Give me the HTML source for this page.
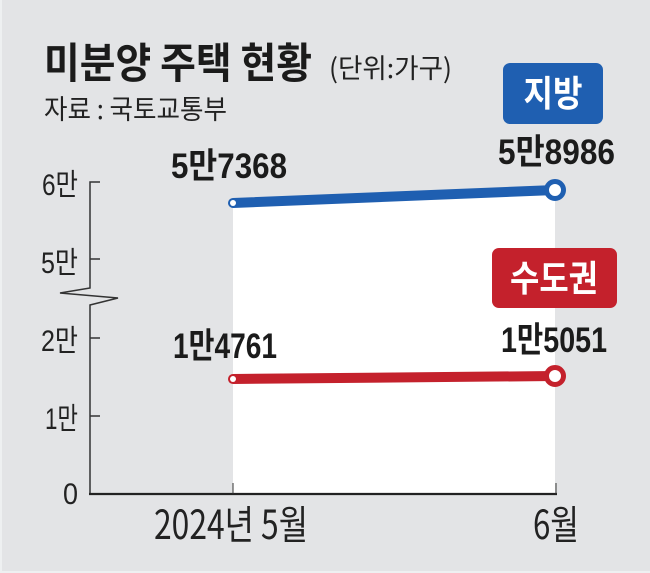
<!DOCTYPE html>
<html>
<head>
<meta charset="utf-8">
<style>
html,body{margin:0;padding:0;background:#e3e4e6;}
svg{display:block;}
text{font-family:"Liberation Sans","Noto Sans CJK KR",sans-serif;}
</style>
</head>
<body>
<svg width="650" height="573" viewBox="0 0 650 573" xmlns="http://www.w3.org/2000/svg">
  <rect x="0" y="0" width="650" height="573" fill="#e3e4e6"/>
  <rect x="0" y="0" width="2" height="573" fill="#eef0f1"/>
  <rect x="0" y="571" width="650" height="2" fill="#eef0f1"/>

  <!-- Title -->
  <text x="44" y="78" font-size="42" font-weight="bold" fill="#1b1b1b" textLength="268" lengthAdjust="spacingAndGlyphs" style="font-family:'Noto Sans CJK KR',sans-serif">미분양 주택 현황</text>
  <text x="329" y="78" font-size="27" fill="#222" textLength="123" lengthAdjust="spacingAndGlyphs" style="font-family:'Noto Sans CJK KR',sans-serif">(단위:가구)</text>
  <text x="44" y="119" font-size="27" fill="#222" textLength="183" lengthAdjust="spacingAndGlyphs" style="font-family:'Noto Sans CJK KR',sans-serif">자료 : 국토교통부</text>

  <!-- white area under blue line -->
  <polygon points="233,203 555,190 555,494 233,494" fill="#ffffff"/>

  <!-- Axis -->
  <polyline points="100,182 90,182 90,288 60,293 118,298 90,305 90,494" fill="none" stroke="#333" stroke-width="1.5"/>
  <line x1="90" y1="259" x2="100" y2="259" stroke="#333" stroke-width="1.5"/>
  <line x1="90" y1="338" x2="100" y2="338" stroke="#333" stroke-width="1.5"/>
  <line x1="90" y1="416" x2="100" y2="416" stroke="#333" stroke-width="1.5"/>
  <line x1="89" y1="494" x2="557" y2="494" stroke="#222" stroke-width="2.2"/>
  <line x1="233" y1="483" x2="233" y2="494" stroke="#333" stroke-width="1"/>
  <line x1="556" y1="483" x2="556" y2="494" stroke="#333" stroke-width="1"/>

  <!-- Y tick labels -->
  <g font-size="30" fill="#222" text-anchor="end" style="font-family:'Noto Sans CJK KR',sans-serif">
    <text x="78" y="195" textLength="36" lengthAdjust="spacingAndGlyphs">6만</text>
    <text x="78" y="273" textLength="37" lengthAdjust="spacingAndGlyphs">5만</text>
    <text x="78" y="351" textLength="37" lengthAdjust="spacingAndGlyphs">2만</text>
    <text x="78" y="429" textLength="33" lengthAdjust="spacingAndGlyphs">1만</text>
    <text x="78" y="504" textLength="15" lengthAdjust="spacingAndGlyphs">0</text>
  </g>

  <!-- X labels -->
  <text x="154" y="539" font-size="40" fill="#222" textLength="154" lengthAdjust="spacingAndGlyphs" style="font-family:'Noto Sans CJK KR',sans-serif">2024년 5월</text>
  <text x="533" y="539" font-size="40" fill="#222" textLength="46" lengthAdjust="spacingAndGlyphs" style="font-family:'Noto Sans CJK KR',sans-serif">6월</text>

  <!-- Blue series -->
  <line x1="233" y1="203" x2="555" y2="190" stroke="#1f5fb1" stroke-width="10" stroke-linecap="round"/>
  <circle cx="233" cy="203" r="3" fill="#ffffff"/>
  <circle cx="555" cy="190" r="8.5" fill="#ffffff" stroke="#1f5fb1" stroke-width="5"/>

  <!-- Red series -->
  <line x1="233" y1="379" x2="555" y2="376" stroke="#c4212c" stroke-width="10" stroke-linecap="round"/>
  <circle cx="233" cy="379" r="3" fill="#ffffff"/>
  <circle cx="555" cy="376" r="8.5" fill="#ffffff" stroke="#c4212c" stroke-width="5"/>

  <!-- Value labels -->
  <g font-size="35" font-weight="bold" fill="#1b1b1b" style="font-family:'Noto Sans CJK KR',sans-serif">
    <text x="171" y="178" textLength="116" lengthAdjust="spacingAndGlyphs">5만7368</text>
    <text x="498" y="164" textLength="117" lengthAdjust="spacingAndGlyphs">5만8986</text>
    <text x="173" y="358" textLength="104" lengthAdjust="spacingAndGlyphs">1만4761</text>
    <text x="501" y="352" textLength="106" lengthAdjust="spacingAndGlyphs">1만5051</text>
  </g>

  <!-- Legend boxes -->
  <rect x="503" y="63" width="100" height="61" rx="7" fill="#1f5fb1"/>
  <text x="553" y="106" font-size="36" font-weight="bold" fill="#ffffff" text-anchor="middle" textLength="59" lengthAdjust="spacingAndGlyphs" style="font-family:'Noto Sans CJK KR',sans-serif">지방</text>

  <rect x="492" y="248" width="125" height="60" rx="7" fill="#c4212c"/>
  <text x="554" y="291" font-size="36" font-weight="bold" fill="#ffffff" text-anchor="middle" textLength="88" lengthAdjust="spacingAndGlyphs" style="font-family:'Noto Sans CJK KR',sans-serif">수도권</text>
</svg>
</body>
</html>
